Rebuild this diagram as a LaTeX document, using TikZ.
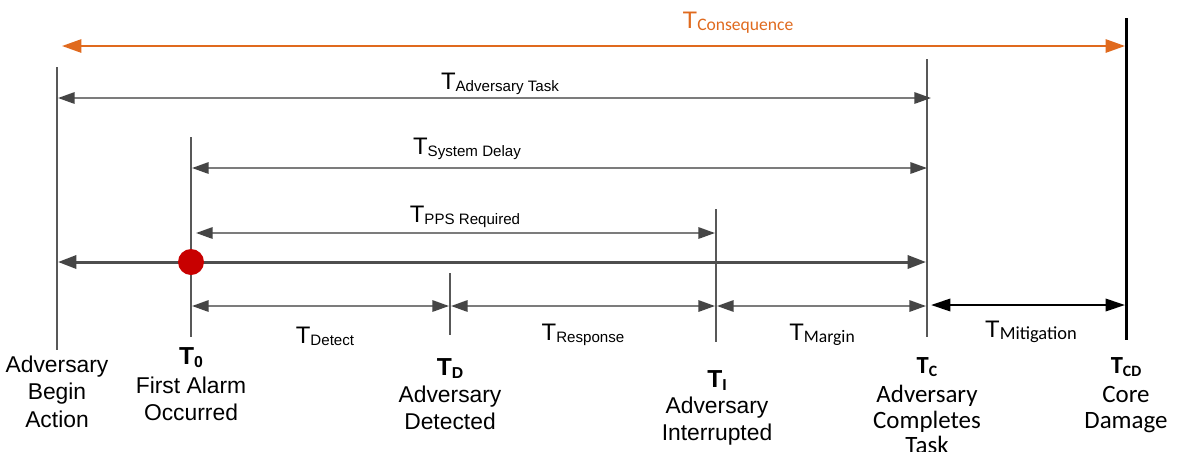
\documentclass[tikz,border=0pt]{standalone}
\usepackage{fontspec}
\setmainfont{Liberation Sans}
\newfontfamily\calfont{Carlito}
\usetikzlibrary{arrows.meta}
\definecolor{lgray}{HTML}{7C7C7C}
\definecolor{dgray}{HTML}{454545}
\definecolor{vgray}{HTML}{585858}
\definecolor{mgray}{HTML}{4E4E4E}
\definecolor{orng}{HTML}{E06A1E}
\definecolor{dotred}{HTML}{C80000}
\newcommand\bigT{\fontsize{13.6pt}{15pt}\selectfont T}
\newcommand\subT[1]{\raisebox{-1.6pt}{\fontsize{8.6pt}{9pt}\selectfont #1}}
\newcommand\boldT[1]{\textbf{\fontsize{14pt}{15pt}\selectfont T\raisebox{-2pt}{\fontsize{9pt}{10pt}\selectfont #1}}}
\begin{document}
\begin{tikzpicture}[x=0.02cm,y=-0.02cm,
  tick/.style={draw=vgray,line width=1.5pt},
  thinarr/.style={draw=lgray,line width=1.1pt,>={Triangle[length=9.5pt,width=6.5pt,color=dgray]},<->},
  mainarr/.style={draw=mgray,line width=1.7pt,>={Triangle[length=10.5pt,width=7.5pt,color=dgray]},<->},
  orarr/.style={draw=orng,line width=1.2pt,>={Triangle[length=11pt,width=7.5pt,color=orng]},<->},
  blkarr/.style={draw=black,line width=1.4pt,>={Triangle[length=11pt,width=7pt,color=black]},<->},
  lab/.style={inner sep=0,anchor=base},
  body/.style={inner sep=0,anchor=north,align=center,font=\fontsize{13pt}{15.4pt}\selectfont},
  cbody/.style={inner sep=0,anchor=north,align=center,font=\calfont\fontsize{14.2pt}{14.6pt}\selectfont}
]
\useasboundingbox (0,0) rectangle (1177,451);
\clip (0,0) rectangle (1177,451);
\fill[white] (0,0) rectangle (1177,451);

% vertical lines
\coordinate (v1t) at (57,67);   \coordinate (v1b) at (57,350);
\coordinate (v2t) at (191,137); \coordinate (v2b) at (191,337);
\coordinate (v3t) at (450,273); \coordinate (v3b) at (450,335);
\coordinate (v4t) at (716,209); \coordinate (v4b) at (716,342);
\coordinate (v5t) at (927,59);  \coordinate (v5b) at (927,337);
\coordinate (v6t) at (1126,18); \coordinate (v6b) at (1126,340);
\draw[tick] (v1t) -- (v1b);
\draw[tick] (v2t) -- (v2b);
\draw[tick] (v3t) -- (v3b);
\draw[tick] (v4t) -- (v4b);
\draw[tick] (v5t) -- (v5b);
\draw[draw=black,line width=1.7pt] (v6t) -- (v6b);

% arrow end points
\coordinate (cq1) at (62,46);   \coordinate (cq2) at (1125,46);
\coordinate (at1) at (58,98);   \coordinate (at2) at (931,98);
\coordinate (sd1) at (192,168); \coordinate (sd2) at (927,168);
\coordinate (pp1) at (196,233); \coordinate (pp2) at (715,233);
\coordinate (mn1) at (58,262);  \coordinate (mn2) at (926,262);
\coordinate (dt1) at (192,306); \coordinate (dt2) at (449,306);
\coordinate (rs1) at (451,306); \coordinate (rs2) at (715,306);
\coordinate (mg1) at (717,306); \coordinate (mg2) at (926,306);
\coordinate (mt1) at (931,305); \coordinate (mt2) at (1125,305);

\draw[orarr] (cq1) -- (cq2);
\draw[thinarr] (at1) -- (at2);
\draw[thinarr] (sd1) -- (sd2);
\draw[thinarr] (pp1) -- (pp2);
\draw[mainarr] (mn1) -- (mn2);
\draw[thinarr] (dt1) -- (dt2);
\draw[thinarr] (rs1) -- (rs2);
\draw[thinarr] (mg1) -- (mg2);
\draw[blkarr] (mt1) -- (mt2);

\node[circle,fill=dotred,minimum size=0.52cm,inner sep=0] (alarm) at (191,262) {};

% arrow labels
\node[lab,text=orng] (lcq) at (738,28) {\bigT\subT{\calfont\fontsize{10pt}{10pt}\selectfont Consequence}};
\node[lab] (lat) at (500,89) {\bigT\subT{Adversary Task}};
\node[lab] (lsd) at (467,154) {\bigT\subT{System Delay}};
\node[lab] (lpp) at (465,222) {\bigT\subT{PPS Required}};
\node[lab] (ldt) at (325,343) {\bigT\subT{Detect}};
\node[lab] (lrs) at (583,340) {\bigT\subT{Response}};
\node[lab] (lmg) at (822,340) {\bigT\subT{\calfont\fontsize{10pt}{10pt}\selectfont Margin}};
\node[lab] (lmt) at (1031,337) {\bigT\subT{\calfont\fontsize{10.5pt}{10pt}\selectfont Mitigation}};

% event labels
\node[body] (e1) at (57,356) {Adversary\\Begin\\Action};
\node[lab] (t0) at (191,364) {\boldT{0}};
\node[body] (e2) at (191,377) {First Alarm\\Occurred};
\node[lab] (td) at (450,375) {\boldT{D}};
\node[body] (e3) at (450,386) {Adversary\\Detected};
\node[lab] (ti) at (717,387) {\boldT{I}};
\node[body] (e4) at (717,397) {Adversary\\Interrupted};
\node[lab] (tc) at (927,373) {\calfont\boldT{C}};
\node[cbody] (e5) at (927,385) {Adversary\\Completes\\Task};
\node[lab] (tcd) at (1126,373) {\calfont\boldT{CD}};
\node[cbody] (e6) at (1126,386) {Core\\Damage};
\end{tikzpicture}
\end{document}
